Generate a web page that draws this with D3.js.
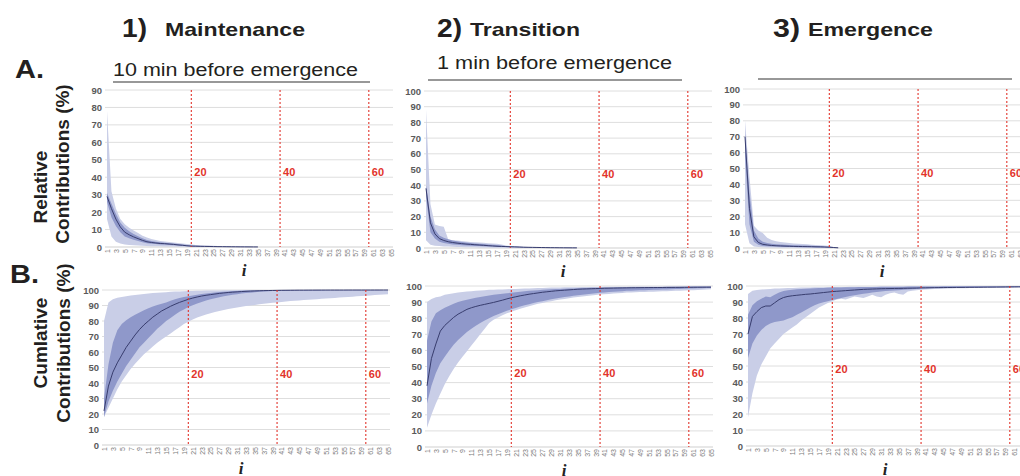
<!DOCTYPE html>
<html><head><meta charset="utf-8">
<script src="https://cdn.jsdelivr.net/npm/d3@7"></script>
<style>body{margin:0;background:#fff;} svg{display:block;}</style>
</head><body><svg id="c" width="1020" height="476"></svg>
<script>
// ---------- categories & ticks ----------
const categories = [1,2,3,4,5,6,7,8,9,10,11,12,13,14,15,16,17,18,19,20,21,22,23,24,25,26,27,28,29,30,31,32,33,34,35,36,37,38,39,40,41,42,43,44,45,46,47,48,49,50,51,52,53,54,55,56,57,58,59,60,61,62,63,64,65];
const xTickLabels = [1,3,5,7,9,11,13,15,17,19,21,23,25,27,29,31,33,35,37,39,41,43,45,47,49,51,53,55,57,59,61,63,65];
const yTicksA1 = [0,10,20,30,40,50,60,70,80,90];
const yTicks100 = [0,10,20,30,40,50,60,70,80,90,100];
const markers = [20,40,60];
const phaseNums = ["1)","2)","3)"];
const phaseNames = ["Maintenance","Transition","Emergence"];
const subtitles = ["10 min before emergence","1 min before emergence",""];
const rowLetters = ["A.","B."];

// ---------- A1: Maintenance, relative ----------
const a1Med = [29,22,16,11.5,8.5,7,5.8,4.8,3.8,3.0,2.6,2.3,2.0,1.9,1.7,1.5,1.2,1.0,0.7,0.5,0.45,0.4,0.35,0.3,0.25,0.2,0.18,0.15,0.12,0.1,0.08,0.06,0.05,0.04,0.03];
const a1Q3  = [31,25,19,14,11,9,7.5,6.2,5,4,3.4,3.0,2.7,2.5,2.2,2.0,1.7,1.4,1.1,0.8,0.7,0.6,0.5,0.45,0.4,0.35,0.3,0.25,0.2,0.15,0.12,0.1,0.08,0.06,0.05];
const a1Q1  = [26,17,12,8.5,6,5,4.2,3.4,2.7,2.2,1.9,1.7,1.5,1.4,1.2,1.0,0.8,0.6,0.4,0.3,0.25,0.2,0.18,0.15,0.12,0.1,0.08,0.06,0.05,0.04,0.03,0.02,0.02,0.01,0.01];
const a1Max = [78,32,22,16,13,11,9.5,8,6.5,5.5,4.6,4,3.5,3.2,2.9,2.6,2.3,2.0,1.7,1.4,1.2,1.0,0.9,0.8,0.7,0.6,0.5,0.45,0.4,0.35,0.3,0.25,0.2,0.15,0.1];
const a1Min = [16,6,3,2,1.5,1.2,1.0,0.8,0.7,0.6,0.5,0.45,0.4,0.35,0.3,0.25,0.2,0.15,0.1,0.08,0.05,0.04,0.03,0.02,0.02,0.01,0.01,0,0,0,0,0,0,0,0];

// ---------- A2: Transition, relative ----------
const a2Med = [38,16,9,6,4.8,4,3.5,3.1,2.8,2.5,2.3,2.1,1.9,1.7,1.5,1.3,1.1,1.0,0.9,0.8,0.7,0.6,0.5,0.45,0.4,0.35,0.3,0.25,0.2,0.18,0.15,0.12,0.1,0.08,0.06];
const a2Q3  = [40,20,12,8,6.5,5.5,4.8,4.3,3.9,3.5,3.2,2.9,2.7,2.5,2.3,2.1,1.9,1.6,1.3,1.1,0.9,0.8,0.7,0.6,0.5,0.45,0.4,0.35,0.3,0.25,0.2,0.17,0.14,0.1,0.08];
const a2Q1  = [33,10,6,4,3.2,2.7,2.3,2.0,1.8,1.6,1.4,1.3,1.2,1.1,1.0,0.9,0.8,0.7,0.6,0.5,0.45,0.4,0.35,0.3,0.25,0.2,0.18,0.15,0.12,0.1,0.08,0.06,0.05,0.04,0.03];
const a2Max = [88,28,15,14,13.5,5.5,5,4.7,4.4,4.1,3.9,3.7,3.5,3.3,3.1,2.9,2.7,2.2,1.6,1.2,1.0,0.9,0.8,0.7,0.6,0.5,0.45,0.4,0.35,0.3,0.25,0.2,0.15,0.1,0.1];
const a2Min = [5,2,1.5,1.2,1.0,0.9,0.8,0.7,0.6,0.5,0.45,0.4,0.35,0.3,0.25,0.2,0.18,0.15,0.12,0.1,0.08,0.06,0.05,0.04,0.03,0.02,0.02,0.01,0.01,0,0,0,0,0,0];

// ---------- A3: Emergence, relative ----------
const a3Med = [70,25,7,3.5,2.3,1.9,1.6,1.4,1.3,1.2,1.1,1.0,0.95,0.9,0.85,0.8,0.75,0.7,0.6,0.5,0.3,0.1];
const a3Q3  = [72,35,11,6,4,3.2,2.7,2.4,2.2,2.0,1.9,1.8,1.7,1.6,1.5,1.4,1.3,1.2,1.0,0.8,0.5,0.2];
const a3Q1  = [58,15,4,2,1.3,1.1,1.0,0.9,0.8,0.7,0.65,0.6,0.55,0.5,0.45,0.4,0.35,0.3,0.25,0.2,0.1,0];
const a3Max = [80,45,14,11,9.5,6.5,5,4.2,3.8,3.4,3.1,2.9,2.7,2.5,2.3,2.1,1.9,1.7,1.5,1.2,0.6,0.2];
const a3Min = [15,3,1,0.6,0.4,0.3,0.3,0.25,0.2,0.2,0.15,0.15,0.1,0.1,0.1,0.08,0.06,0.05,0.04,0.03,0.02,0];

// ---------- B1: Maintenance, cumulative ----------
const b1Med = [22,38,47,53,58,63,67,71,74.5,77.5,80,82.5,84.5,86.5,88,89.5,90.8,92,93,94,94.8,95.5,96.1,96.6,97,97.4,97.8,98.1,98.4,98.6,98.8,99,99.15,99.3,99.4,99.5,99.6,99.65,99.7,99.75,99.8,99.82,99.85,99.87,99.9,99.9,99.92,99.93,99.94,99.95,99.95,99.96,99.96,99.97,99.97,99.98,99.98,99.98,99.99,99.99,99.99,100,100,100,100];
const b1Q3  = [30,52,66,74,78,80.5,82.5,84,85.5,87,88.2,89.3,90.3,91.2,92,93,94,94.8,95.5,96,96.5,97,97.4,97.8,98.1,98.4,98.7,98.9,99.1,99.3,99.4,99.5,99.6,99.7,99.75,99.8,99.85,99.9,99.9,99.95,99.95,99.96,99.97,99.98,99.98,99.99,99.99,100,100,100,100,100,100,100,100,100,100,100,100,100,100,100,100,100,100];
const b1Q1  = [18,28,35,41,46,51,55,59,63,66,69,72,75,77.5,80,82,84,86,87.5,89,90.2,91.3,92.3,93.2,94,94.7,95.3,95.9,96.4,96.9,97.3,97.7,98,98.3,98.6,98.8,99,99.2,99.3,99.4,99.45,99.5,99.55,99.6,99.62,99.65,99.68,99.7,99.72,99.74,99.76,99.78,99.8,99.82,99.84,99.85,99.86,99.87,99.88,99.89,99.9,99.9,99.91,99.92,99.93];
const b1Max = [80,92,94,95,95.5,96,96.4,96.8,97.1,97.4,97.7,98,98.2,98.4,98.6,98.8,99,99.1,99.2,99.3,99.4,99.5,99.55,99.6,99.65,99.7,99.75,99.8,99.85,99.9,99.92,99.94,99.95,99.96,99.97,99.98,99.98,99.99,99.99,100,100,100,100,100,100,100,100,100,100,100,100,100,100,100,100,100,100,100,100,100,100,100,100,100,100];
const b1Min = [18,24,30,36,41,45,49,52.5,55.5,58.5,61,63.5,66,68,70,72,74,76,78,79.5,81,82.2,83.3,84.2,85,85.8,86.5,87.1,87.7,88.2,88.7,89.2,89.6,90,90.4,90.8,91.1,91.4,91.7,92,92.3,92.6,92.9,93.1,93.3,93.5,93.7,93.9,94.1,94.3,94.5,94.7,94.9,95.1,95.3,95.5,95.7,95.9,96.1,96.3,96.5,96.7,96.9,97.1,97.3];

// ---------- B2: Transition, cumulative ----------
const b2Med = [38,55,64,72,75.5,78,80.5,82.5,84,85.5,86.5,87.3,88,88.6,89.2,89.8,90.5,91.2,92,92.7,93.3,93.9,94.4,94.9,95.3,95.7,96.1,96.4,96.7,97,97.2,97.4,97.6,97.8,98,98.1,98.2,98.3,98.4,98.5,98.6,98.65,98.7,98.75,98.8,98.85,98.9,98.93,98.96,99,99.02,99.04,99.06,99.08,99.1,99.12,99.14,99.16,99.18,99.2,99.22,99.24,99.26,99.28,99.3];
const b2Q3  = [66,78,83,85,86.5,87.8,89,90,90.8,91.5,92.1,92.7,93.2,93.7,94.1,94.5,94.9,95.2,95.5,95.8,96.1,96.4,96.7,97,97.2,97.4,97.6,97.8,98,98.1,98.2,98.3,98.4,98.5,98.6,98.7,98.8,98.85,98.9,98.95,99,99.05,99.1,99.15,99.2,99.22,99.25,99.28,99.3,99.33,99.36,99.4,99.42,99.45,99.48,99.5,99.52,99.55,99.58,99.6,99.62,99.64,99.66,99.68,99.7];
const b2Q1  = [27,38,46,52,56,60,63.5,66.5,69,71.5,73.5,75.3,77,78.5,80,81.3,82.5,83.6,84.6,85.5,86.4,87.2,88,88.7,89.4,90,90.6,91.2,91.7,92.2,92.7,93.1,93.5,93.9,94.3,94.6,94.9,95.2,95.5,95.8,96,96.2,96.4,96.6,96.8,97,97.1,97.2,97.3,97.4,97.5,97.6,97.7,97.8,97.9,98,98.1,98.2,98.3,98.4,98.5,98.55,98.6,98.7,98.8];
const b2Max = [90,92,93,93.5,94.5,95,95.5,96,96.3,96.6,96.8,97,97.2,97.4,97.6,97.7,97.8,97.9,98,98.1,98.2,98.3,98.4,98.5,98.6,98.7,98.8,98.9,99,99.05,99.1,99.15,99.2,99.25,99.3,99.33,99.36,99.4,99.42,99.45,99.48,99.5,99.52,99.55,99.57,99.6,99.62,99.64,99.66,99.68,99.7,99.7,99.72,99.72,99.74,99.74,99.76,99.76,99.78,99.78,99.8,99.8,99.8,99.8,99.8];
const b2Min = [12,20,27,33,39,44,48.5,52.5,56,59.5,63,66.5,70,73.5,77,79,80.5,81.8,83,84,85,85.9,86.7,87.5,88.2,88.9,89.5,90.1,90.6,91.1,91.6,92,92.4,92.8,93.2,93.5,93.8,94.1,94.4,94.7,94.9,95.1,95.3,95.5,95.7,95.9,96,96.1,96.2,96.3,96.4,96.5,96.6,96.7,96.8,96.9,97,97.1,97.2,97.3,97.4,97.5,97.6,97.8,98];

// ---------- B3: Emergence, cumulative ----------
const b3Med = [70,81,84,86.5,87.5,87.5,89.5,91.5,92.8,93.5,93.9,94.2,94.5,94.8,95,95.3,95.6,95.9,96.2,96.5,96.7,96.9,97.1,97.3,97.5,97.7,97.9,98,98.1,98.2,98.3,98.35,98.4,98.45,98.5,98.55,98.6,98.65,98.7,98.8,98.85,98.9,98.95,99,99.02,99.05,99.08,99.1,99.12,99.15,99.18,99.2,99.22,99.25,99.28,99.3,99.32,99.35,99.38,99.4,99.42,99.44,99.46,99.48,99.5];
const b3Q3  = [82,88,90.5,92,93.5,93,94.5,96,96.8,97.3,97.6,97.9,98.1,98.3,98.5,98.6,98.7,98.8,98.9,99,99.05,99.1,99.15,99.2,99.25,99.3,99.35,99.4,99.42,99.45,99.48,99.5,99.52,99.55,99.58,99.6,99.62,99.64,99.66,99.68,99.7,99.72,99.74,99.76,99.78,99.8,99.81,99.82,99.83,99.84,99.85,99.86,99.87,99.88,99.89,99.9,99.9,99.91,99.92,99.93,99.94,99.95,99.96,99.97,99.98];
const b3Q1  = [55,64,69,72.5,75,76.5,77.5,78,78.5,79.5,80.5,82,83.5,85,86.5,88,89,89.8,90.5,91.2,91.9,92.5,93.1,93.7,94.2,94.7,95.1,95.5,95.9,96.2,96.5,96.8,97,97.2,97.4,97.6,97.8,98,98.2,98.4,98.5,98.6,98.7,98.8,98.85,98.9,98.95,99,99.02,99.05,99.08,99.1,99.12,99.15,99.18,99.2,99.22,99.25,99.28,99.3,99.32,99.34,99.36,99.38,99.4];
const b3Max = [95,97,97.5,97.8,98,98.2,98.4,98.5,98.6,98.7,98.8,98.9,99,99.05,99.1,99.15,99.2,99.25,99.3,99.35,99.4,99.42,99.45,99.48,99.5,99.52,99.55,99.58,99.6,99.62,99.64,99.66,99.68,99.7,99.72,99.74,99.76,99.78,99.8,99.82,99.84,99.86,99.88,99.9,99.9,99.92,99.92,99.94,99.94,99.96,99.96,99.97,99.97,99.98,99.98,99.98,99.99,99.99,99.99,100,100,100,100,100,100];
const b3Min = [18,33,44,51,56,61,64,67,70,72,74,76,78.5,80.5,82.5,84.5,86.5,88,89.3,90.5,91.5,92,91.5,92.5,93.5,93,92.5,93.5,94.5,93.5,93,94.5,95.5,96,95,94.5,96.5,97,97.3,97.6,97.8,98,98.1,98.2,98.3,98.4,98.5,98.55,98.6,98.65,98.7,98.75,98.8,98.85,98.9,98.95,99,99.03,99.06,99.1,99.13,99.16,99.2,99.25,99.3];

// ---------- layout ----------
const panels = [
  {x1:107, yTop:90,  y0:247, yMax:90,  ticks:yTicksA1, lab:43, d:{med:a1Med,q1:a1Q1,q3:a1Q3,min:a1Min,max:a1Max}},
  {x1:426, yTop:91,  y0:248, yMax:100, ticks:yTicks100, lab:47, d:{med:a2Med,q1:a2Q1,q3:a2Q3,min:a2Min,max:a2Max}},
  {x1:745, yTop:89,  y0:248, yMax:100, ticks:yTicks100, lab:47, d:{med:a3Med,q1:a3Q1,q3:a3Q3,min:a3Min,max:a3Max}},
  {x1:104, yTop:290, y0:445, yMax:100, ticks:yTicks100, lab:46, d:{med:b1Med,q1:b1Q1,q3:b1Q3,min:b1Min,max:b1Max}},
  {x1:427, yTop:286, y0:447, yMax:100, ticks:yTicks100, lab:46, d:{med:b2Med,q1:b2Q1,q3:b2Q3,min:b2Min,max:b2Max}},
  {x1:748, yTop:286, y0:446, yMax:100, ticks:yTicks100, lab:48, d:{med:b3Med,q1:b3Q1,q3:b3Q3,min:b3Min,max:b3Max}}
];
const W = 284;
const svg = d3.select('#c');
const SANS = "'Liberation Sans', Arial, Helvetica, sans-serif";

panels.forEach(p => {
  const x = d3.scalePoint().domain(categories).range([p.x1, p.x1 + W]);
  const y = d3.scaleLinear().domain([0, p.yMax]).range([p.y0, p.yTop]);
  const g = svg.append('g');

  // gridlines
  g.selectAll('line.grid').data(p.ticks.filter(t => t > 0)).join('line')
    .attr('x1', p.x1 - 2).attr('x2', p.x1 + W + 2)
    .attr('y1', d => y(d)).attr('y2', d => y(d))
    .attr('stroke', '#dedede').attr('stroke-width', 1);

  // y axis labels
  const ya = g.append('g').attr('transform', `translate(${p.x1 - 4},0)`)
    .call(d3.axisLeft(y).tickValues(p.ticks).tickSize(0).tickPadding(1));
  ya.select('.domain').remove();
  ya.selectAll('text').attr('fill', '#5a5a5a').style('font-family', SANS)
    .style('font-size', '9.5px').style('font-weight', 'bold');

  // x axis
  const xa = g.append('g').attr('transform', `translate(0,${p.y0})`)
    .call(d3.axisBottom(x).tickValues(xTickLabels).tickSize(0));
  xa.select('.domain').attr('stroke', '#cfcfcf').attr('d', `M${p.x1 - 2},0H${p.x1 + W + 2}`);
  xa.selectAll('text').attr('transform', 'rotate(-90)').attr('x', -2).attr('y', 0)
    .attr('dy', '0.35em').attr('text-anchor', 'end')
    .attr('fill', '#7a7a7a').style('font-family', SANS).style('font-size', '7px');

  // bands
  const n = p.d.med.length;
  const cats = categories.slice(0, n);
  const band = (lo, hi) => d3.area()
    .x((d, i) => x(cats[i])).y0((d, i) => y(lo[i])).y1((d, i) => y(hi[i]))(cats);
  g.append('path').attr('d', band(p.d.min, p.d.max)).attr('fill', '#c9cee7');
  g.append('path').attr('d', band(p.d.q1, p.d.q3)).attr('fill', '#8f98ca');
  g.append('path').datum(p.d.med)
    .attr('d', d3.line().x((d, i) => x(cats[i])).y(d => y(d)))
    .attr('fill', 'none').attr('stroke', '#383d6e').attr('stroke-width', 1);

  // red dashed markers
  markers.forEach(m => {
    g.append('line').attr('x1', x(m)).attr('x2', x(m))
      .attr('y1', y(p.yMax)).attr('y2', y(0))
      .attr('stroke', '#e2342b').attr('stroke-width', 1.1).attr('stroke-dasharray', '2,2');
    g.append('text').attr('x', x(m) + 3).attr('y', y(p.lab)).attr('dy', '0.35em')
      .text(m).attr('fill', '#e2342b').style('font-family', SANS)
      .style('font-size', '11px').style('font-weight', 'bold');
  });

  // i label
  g.append('text').attr('x', p.x1 + W / 2 - 5).attr('y', p.y0 + 29).text('i')
    .attr('text-anchor', 'middle').style('font-family', "'Liberation Serif', 'Times New Roman', serif")
    .style('font-style', 'italic').style('font-weight', 'bold').style('font-size', '17px').attr('fill', '#222');
});

// ---------- titles ----------
const numPos = [{x:122, w:25}, {x:437, w:25}, {x:773, w:27}];
const namePos = [{x:165, w:140}, {x:470, w:110}, {x:808, w:125}];
phaseNums.forEach((t, k) => {
  svg.append('text').attr('x', numPos[k].x).attr('y', 37).text(t)
    .attr('textLength', numPos[k].w).attr('lengthAdjust', 'spacingAndGlyphs')
    .style('font-family', SANS).style('font-weight', 'bold').style('font-size', '25px').attr('fill', '#231f20');
  svg.append('text').attr('x', namePos[k].x).attr('y', 36).text(phaseNames[k])
    .attr('textLength', namePos[k].w).attr('lengthAdjust', 'spacingAndGlyphs')
    .style('font-family', SANS).style('font-weight', 'bold').style('font-size', '19px').attr('fill', '#231f20');
});
const subPos = [{x:113, y:76, w:245}, {x:437, y:69, w:235}];
subtitles.forEach((t, k) => {
  if (!t) return;
  svg.append('text').attr('x', subPos[k].x).attr('y', subPos[k].y).text(t)
    .attr('textLength', subPos[k].w).attr('lengthAdjust', 'spacingAndGlyphs')
    .style('font-family', SANS).style('font-size', '18px').attr('fill', '#231f20');
});
const underlines = [{x1:113, x2:370, y:82}, {x1:428, x2:682, y:80}, {x1:758, x2:1012, y:79}];
underlines.forEach(u => svg.append('line').attr('x1', u.x1).attr('x2', u.x2).attr('y1', u.y).attr('y2', u.y)
  .attr('stroke', '#333').attr('stroke-width', 1.2));

// row letters
const letterPos = [{x:15, y:78}, {x:10, y:283}];
rowLetters.forEach((t, k) => svg.append('text').attr('x', letterPos[k].x).attr('y', letterPos[k].y).text(t)
  .attr('textLength', 29).attr('lengthAdjust', 'spacingAndGlyphs')
  .style('font-family', SANS).style('font-weight', 'bold').style('font-size', '26px').attr('fill', '#231f20'));

// y axis titles
const yTitles = [
  {t:'Relative', x:40, y:187}, {t:'Contributions (%)', x:62, y:164},
  {t:'Cumlative', x:40, y:343}, {t:'Contributions (%)', x:63, y:343}
];
yTitles.forEach(o => svg.append('text').attr('transform', `translate(${o.x + 7},${o.y}) rotate(-90)`)
  .attr('text-anchor', 'middle').text(o.t)
  .style('font-family', SANS).style('font-weight', 'bold').style('font-size', '19px').attr('fill', '#231f20'));
</script></body></html>
